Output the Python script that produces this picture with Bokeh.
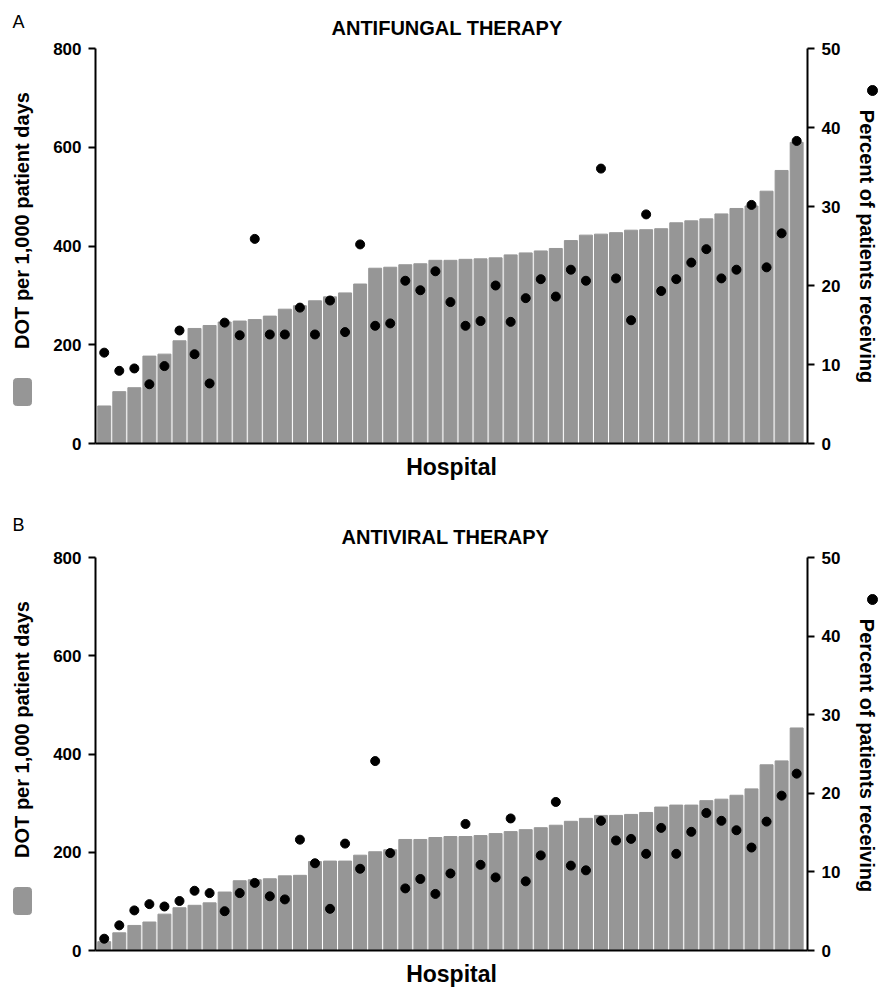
import math
from bokeh.plotting import figure
from bokeh.models import Range1d, LinearAxis, FixedTicker
from bokeh.layouts import column, row
from bokeh.core.properties import value
from bokeh.embed import file_html
from bokeh.resources import INLINE

hospitals = list(range(1, 48))

antifungal_dot = [76, 105, 113, 177, 181, 208, 233, 239, 246, 248, 251, 258, 272, 279,
                  289, 297, 305, 323, 355, 357, 362, 364, 371, 371, 373, 374, 376, 382,
                  386, 390, 395, 411, 422, 424, 427, 432, 433, 435, 447, 451, 455, 465,
                  476, 481, 511, 553, 610]
antifungal_pct = [11.5, 9.2, 9.5, 7.5, 9.8, 14.3, 11.3, 7.6, 15.3, 13.7, 25.9, 13.8,
                  13.8, 17.2, 13.8, 18.1, 14.1, 25.2, 14.9, 15.2, 20.6, 19.4, 21.8, 17.9,
                  14.9, 15.5, 20.0, 15.4, 18.4, 20.8, 18.6, 22.0, 20.6, 34.8, 20.9, 15.6,
                  29.0, 19.3, 20.8, 22.9, 24.6, 20.9, 22.0, 30.2, 22.3, 26.6, 38.3]

antiviral_dot = [18, 36, 51, 58, 74, 87, 92, 97, 119, 142, 144, 146, 152, 153, 181, 182,
                 182, 194, 201, 205, 226, 226, 230, 232, 232, 234, 238, 242, 246, 250,
                 255, 263, 269, 275, 275, 277, 281, 292, 296, 296, 305, 308, 316, 329,
                 378, 386, 453]
antiviral_pct = [1.5, 3.2, 5.1, 5.9, 5.6, 6.3, 7.6, 7.3, 5.0, 7.3, 8.6, 6.9, 6.5, 14.1,
                 11.1, 5.3, 13.6, 10.4, 24.1, 12.4, 7.9, 9.1, 7.2, 9.8, 16.1, 10.9, 9.3,
                 16.8, 8.8, 12.1, 18.9, 10.8, 10.2, 16.5, 14.0, 14.2, 12.3, 15.6, 12.3,
                 15.1, 17.5, 16.5, 15.3, 13.1, 16.4, 19.7, 22.5]

dot_ticks = [0, 200, 400, 600, 800]
pct_ticks = [0, 10, 20, 30, 40, 50]

left_title = "DOT per 1,000 patient days"
right_title = "Percent of patients receiving"

FONT = "Liberation Sans"
BAR = "#969696"

LEFT_W, MAIN_W, RIGHT_W = 40, 815, 23
FRAME_H = 395


def style_axis(ax, ticks):
    ax.ticker = FixedTicker(ticks=ticks)
    ax.axis_line_width = 2
    ax.axis_line_color = "black"
    ax.major_tick_line_width = 2
    ax.major_tick_out = 7
    ax.major_tick_in = 0
    ax.minor_tick_line_color = None
    ax.major_label_text_font = FONT
    ax.major_label_text_font_size = "17px"
    ax.major_label_text_font_style = "bold"
    ax.major_label_text_color = "black"
    ax.major_label_standoff = 7


def strip(width, height):
    s = figure(width=width, height=height, x_range=Range1d(0, width),
               y_range=Range1d(height, 0), output_backend="svg", toolbar_location=None,
               x_axis_location=None, y_axis_location=None, min_border=0,
               frame_align=False)
    s.outline_line_color = None
    s.grid.visible = False
    return s


def make_panel(letter, title, title_offset, dots, pcts, height, top, letter_y):
    bottom = height - top - FRAME_H
    p = figure(width=MAIN_W, height=height, x_range=Range1d(0.42, 47.72),
               y_range=Range1d(0, 800), output_backend="svg", toolbar_location=None,
               min_border_left=55, min_border_right=48, min_border_top=top,
               min_border_bottom=bottom, title=title, frame_align=False)
    p.extra_y_ranges = {"pct": Range1d(0, 50)}
    p.outline_line_color = None
    p.grid.visible = False

    p.title.text_font = FONT
    p.title.text_font_size = "20px"
    p.title.text_font_style = "bold"
    p.title.text_color = "black"
    p.title.align = "left"
    p.title.offset = title_offset
    p.title.standoff = 20

    p.vbar(x=hospitals, top=dots, width=0.86, color=BAR)
    p.scatter(x=hospitals, y=pcts, y_range_name="pct", size=9, color="black")

    style_axis(p.yaxis[0], dot_ticks)
    xa = p.xaxis[0]
    xa.ticker = FixedTicker(ticks=[])
    xa.axis_line_width = 2
    xa.major_tick_out = 0
    xa.major_tick_in = 0
    xa.major_label_standoff = 0
    xa.minor_tick_line_color = None
    xa.axis_label = "Hospital"
    xa.axis_label_text_font = FONT
    xa.axis_label_text_font_size = "23px"
    xa.axis_label_text_font_style = "bold"
    xa.axis_label_text_color = "black"
    xa.axis_label_standoff = 10

    ra = LinearAxis(y_range_name="pct")
    style_axis(ra, pct_ticks)
    p.add_layout(ra, "right")

    # left strip: panel letter, axis title and its bar key
    ls = strip(LEFT_W, height)
    ls.text(x=[12], y=[letter_y], text=[letter], text_font=value(FONT),
            text_font_size="18px", text_align="left", text_baseline="alphabetic",
            text_color="black")
    ls.text(x=[21], y=[top + 172], text=[left_title], angle=math.pi / 2,
            text_font=value(FONT), text_font_size="20px", text_font_style="bold",
            text_align="center", text_baseline="alphabetic", text_color="black")
    ls.quad(left=[13], right=[31], top=[top + 330], bottom=[top + 357], color=BAR,
            border_radius=3)

    # right strip: axis title and its dot key
    rs = strip(RIGHT_W, height)
    rs.text(x=[11], y=[top + 198], text=[right_title], angle=-math.pi / 2,
            text_font=value(FONT), text_font_size="20px", text_font_style="bold",
            text_align="center", text_baseline="alphabetic", text_color="black")
    rs.scatter(x=[17], y=[top + 42], size=10, color="black")

    return row(ls, p, rs, spacing=0)


panel_a = make_panel("A", "ANTIFUNGAL THERAPY", 236, antifungal_dot, antifungal_pct,
                     505, 48, 21)
panel_b = make_panel("B", "ANTIVIRAL THERAPY", 246, antiviral_dot, antiviral_pct,
                     484, 52, 19)

layout = column(panel_a, panel_b, spacing=0)
open("out.html", "w").write(file_html(layout, INLINE))
